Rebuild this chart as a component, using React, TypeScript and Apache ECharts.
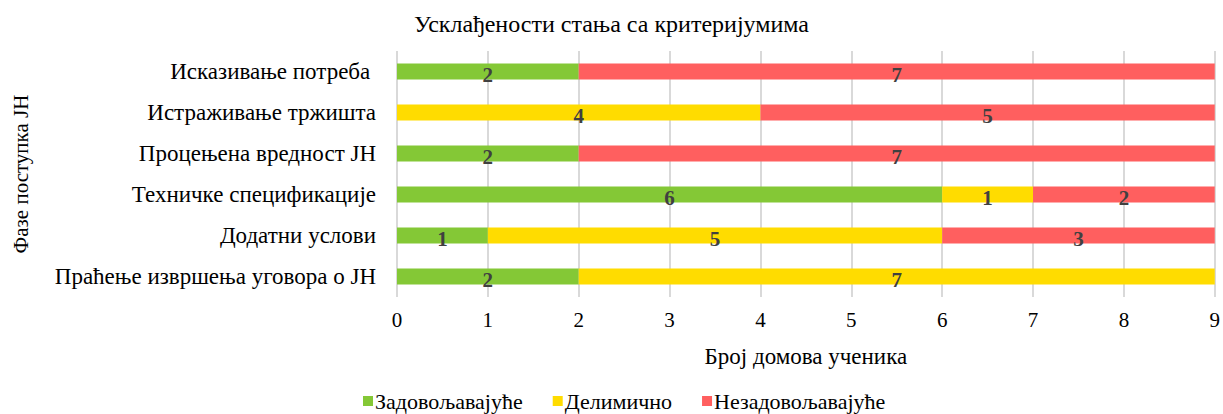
import React, { useEffect, useRef } from "react";
import * as echarts from "echarts";

const categories = [
  "Исказивање потреба ",
  "Истраживање тржишта",
  "Процењена вредност ЈН",
  "Техничке спецификације",
  "Додатни услови",
  "Праћење извршења уговора о ЈН",
];
const satisfactory = [2, 0, 2, 6, 1, 2];
const partial = [0, 4, 0, 1, 5, 7];
const unsatisfactory = [7, 5, 7, 2, 3, 0];
const seriesNames = ["Задовољавајуће", "Делимично", "Незадовољавајуће"];
const colors = ["#84C836", "#FFDC00", "#FF5F5F"];
const xTicks = [0, 1, 2, 3, 4, 5, 6, 7, 8, 9];

const FONT = "Liberation Serif, serif";

export default function App() {
  const ref = useRef<HTMLDivElement>(null);
  useEffect(() => {
    if (!ref.current) return;
    const chart = echarts.init(ref.current, undefined, { renderer: "svg" });
    const mk = (name: string, data: number[], color: string) => ({
      name,
      type: "bar",
      stack: "total",
      data: data.map((v) => (v === 0 ? null : v)),
      barWidth: "39%",
      itemStyle: { color },
      label: {
        show: true,
        position: "inside",
        offset: [0, 3],
        color: "#404040",
        fontWeight: "bold",
        fontSize: 21,
        fontFamily: FONT,
      },
    });
    chart.setOption({
      animation: false,
      textStyle: { fontFamily: FONT },
      title: {
        text: "Усклађености стања са критеријумима",
        left: "center",
        top: 7,
        textStyle: { fontFamily: FONT, fontSize: 24, fontWeight: "normal", color: "#000" },
      },
      legend: {
        bottom: -3,
        left: 358,
        itemGap: 30,
        itemWidth: 10,
        itemHeight: 10,
        icon: "rect",
        data: seriesNames,
        textStyle: { fontFamily: FONT, fontSize: 22, color: "#000", padding: [0, 0, 0, -3] },
      },
      grid: { left: 397, right: 6, top: 51, bottom: 117, containLabel: false },
      xAxis: {
        type: "value",
        min: xTicks[0],
        max: xTicks[xTicks.length - 1],
        interval: 1,
        name: "Број домова ученика",
        nameLocation: "middle",
        nameGap: 48,
        nameTextStyle: { fontFamily: FONT, fontSize: 23, color: "#000" },
        axisLabel: { fontFamily: FONT, fontSize: 21, color: "#000", margin: 12 },
        axisLine: { show: false },
        axisTick: { show: false },
        splitLine: { show: true, lineStyle: { color: "#D9D9D9", width: 2 } },
      },
      yAxis: {
        type: "category",
        data: categories,
        inverse: true,
        name: "Фазе поступка ЈН",
        nameLocation: "middle",
        nameRotate: 90,
        nameGap: 366,
        nameTextStyle: { fontFamily: FONT, fontSize: 21, color: "#000" },
        axisLabel: { fontFamily: FONT, fontSize: 23, color: "#000", margin: 21 },
        axisLine: { show: false },
        axisTick: { show: false },
        splitLine: { show: false },
      },
      series: [
        mk(seriesNames[0], satisfactory, colors[0]),
        mk(seriesNames[1], partial, colors[1]),
        mk(seriesNames[2], unsatisfactory, colors[2]),
      ],
    });
    return () => chart.dispose();
  }, []);
  return <div ref={ref} style={{ width: 1223, height: 414, position: "absolute", left: 0, top: 0 }} />;
}
